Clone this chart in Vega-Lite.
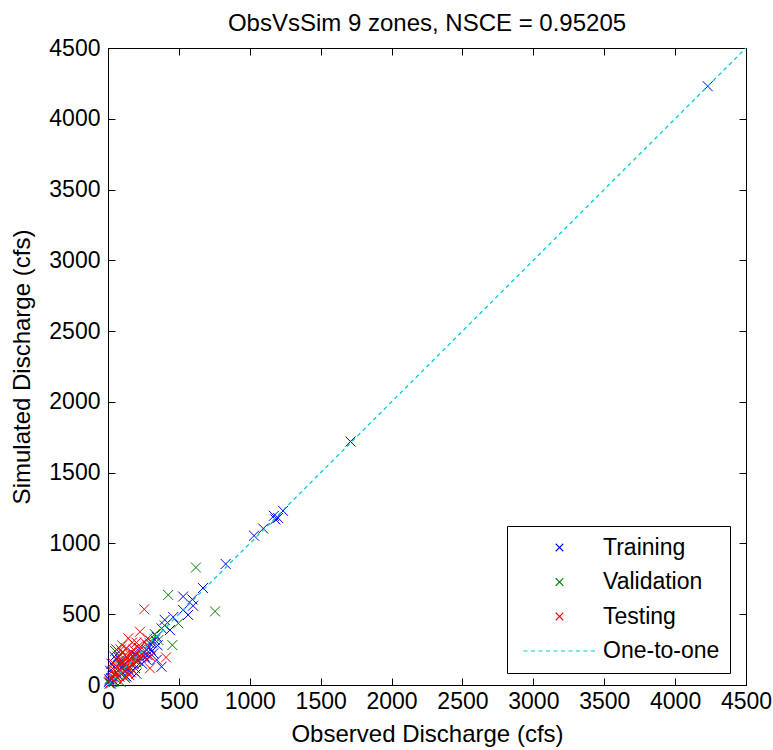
{
  "$schema": "https://vega.github.io/schema/vega-lite/v6.json",
  "width": 638,
  "height": 637,
  "autosize": {"type": "none"},
  "padding": {"left": 108, "top": 48, "right": 27, "bottom": 65},
  "background": "white",
  "title": {"text": "ObsVsSim 9 zones, NSCE = 0.95205", "font": "Liberation Sans", "fontSize": 24, "fontWeight": "normal", "color": "black", "offset": 6, "dy": 24, "baseline": "alphabetic", "anchor": "middle"},
  "config": {
    "view": {"stroke": "black", "strokeWidth": 1},
    "title": {"font": "Liberation Sans", "fontSize": 24, "fontWeight": "normal", "color": "black"},
    "axis": {
      "grid": false, "domain": true, "domainColor": "black", "tickColor": "black", "tickSize": -7,
      "labelFont": "Liberation Sans", "labelFontSize": 23, "labelColor": "black", "labelFlush": false,
      "titleFont": "Liberation Sans", "titleFontSize": 24, "titleFontWeight": "normal", "titleColor": "black"
    }
  },
  "datasets": {
    "points": [
      {"obs": 4230, "sim": 4230, "series": "Training"},
      {"obs": 1710, "sim": 1720, "series": "Training"},
      {"obs": 1030, "sim": 1055, "series": "Training"},
      {"obs": 1095, "sim": 1105, "series": "Training"},
      {"obs": 1170, "sim": 1195, "series": "Training"},
      {"obs": 1200, "sim": 1180, "series": "Training"},
      {"obs": 1235, "sim": 1230, "series": "Training"},
      {"obs": 1180, "sim": 1170, "series": "Training"},
      {"obs": 830, "sim": 855, "series": "Training"},
      {"obs": 670, "sim": 685, "series": "Training"},
      {"obs": 530, "sim": 625, "series": "Training"},
      {"obs": 595, "sim": 605, "series": "Training"},
      {"obs": 600, "sim": 560, "series": "Training"},
      {"obs": 565, "sim": 495, "series": "Training"},
      {"obs": 530, "sim": 530, "series": "Training"},
      {"obs": 460, "sim": 480, "series": "Training"},
      {"obs": 400, "sim": 460, "series": "Training"},
      {"obs": 378, "sim": 400, "series": "Training"},
      {"obs": 437, "sim": 388, "series": "Training"},
      {"obs": 343, "sim": 341, "series": "Training"},
      {"obs": 296, "sim": 294, "series": "Training"},
      {"obs": 320, "sim": 224, "series": "Training"},
      {"obs": 378, "sim": 129, "series": "Training"},
      {"obs": 343, "sim": 177, "series": "Training"},
      {"obs": 273, "sim": 247, "series": "Training"},
      {"obs": 250, "sim": 230, "series": "Training"},
      {"obs": 290, "sim": 270, "series": "Training"},
      {"obs": 310, "sim": 300, "series": "Training"},
      {"obs": 260, "sim": 200, "series": "Training"},
      {"obs": 230, "sim": 190, "series": "Training"},
      {"obs": 200, "sim": 210, "series": "Training"},
      {"obs": 220, "sim": 260, "series": "Training"},
      {"obs": 180, "sim": 150, "series": "Training"},
      {"obs": 150, "sim": 180, "series": "Training"},
      {"obs": 120, "sim": 100, "series": "Training"},
      {"obs": 100, "sim": 130, "series": "Training"},
      {"obs": 80, "sim": 60, "series": "Training"},
      {"obs": 60, "sim": 90, "series": "Training"},
      {"obs": 40, "sim": 30, "series": "Training"},
      {"obs": 30, "sim": 60, "series": "Training"},
      {"obs": 20, "sim": 10, "series": "Training"},
      {"obs": 10, "sim": 40, "series": "Training"},
      {"obs": 50, "sim": 120, "series": "Training"},
      {"obs": 70, "sim": 200, "series": "Training"},
      {"obs": 90, "sim": 170, "series": "Training"},
      {"obs": 110, "sim": 140, "series": "Training"},
      {"obs": 140, "sim": 110, "series": "Training"},
      {"obs": 160, "sim": 90, "series": "Training"},
      {"obs": 190, "sim": 120, "series": "Training"},
      {"obs": 210, "sim": 170, "series": "Training"},
      {"obs": 240, "sim": 150, "series": "Training"},
      {"obs": 270, "sim": 180, "series": "Training"},
      {"obs": 300, "sim": 250, "series": "Training"},
      {"obs": 330, "sim": 320, "series": "Training"},
      {"obs": 350, "sim": 280, "series": "Training"},
      {"obs": 280, "sim": 210, "series": "Training"},
      {"obs": 25, "sim": 150, "series": "Training"},
      {"obs": 15, "sim": 100, "series": "Training"},
      {"obs": 5, "sim": 20, "series": "Training"},
      {"obs": 45, "sim": 200, "series": "Training"},
      {"obs": 60, "sim": 250, "series": "Training"},
      {"obs": 130, "sim": 60, "series": "Training"},
      {"obs": 170, "sim": 230, "series": "Training"},
      {"obs": 200, "sim": 80, "series": "Training"},
      {"obs": 620, "sim": 830, "series": "Validation"},
      {"obs": 425, "sim": 636, "series": "Validation"},
      {"obs": 755, "sim": 520, "series": "Validation"},
      {"obs": 496, "sim": 436, "series": "Validation"},
      {"obs": 454, "sim": 282, "series": "Validation"},
      {"obs": 355, "sim": 318, "series": "Validation"},
      {"obs": 400, "sim": 420, "series": "Validation"},
      {"obs": 300, "sim": 310, "series": "Validation"},
      {"obs": 250, "sim": 230, "series": "Validation"},
      {"obs": 180, "sim": 200, "series": "Validation"},
      {"obs": 150, "sim": 130, "series": "Validation"},
      {"obs": 100, "sim": 80, "series": "Validation"},
      {"obs": 80, "sim": 150, "series": "Validation"},
      {"obs": 60, "sim": 40, "series": "Validation"},
      {"obs": 40, "sim": 20, "series": "Validation"},
      {"obs": 20, "sim": 50, "series": "Validation"},
      {"obs": 10, "sim": 10, "series": "Validation"},
      {"obs": 30, "sim": 100, "series": "Validation"},
      {"obs": 120, "sim": 60, "series": "Validation"},
      {"obs": 200, "sim": 160, "series": "Validation"},
      {"obs": 270, "sim": 250, "series": "Validation"},
      {"obs": 330, "sim": 360, "series": "Validation"},
      {"obs": 50, "sim": 240, "series": "Validation"},
      {"obs": 90, "sim": 20, "series": "Validation"},
      {"obs": 256, "sim": 535, "series": "Testing"},
      {"obs": 409, "sim": 195, "series": "Testing"},
      {"obs": 296, "sim": 118, "series": "Testing"},
      {"obs": 226, "sim": 376, "series": "Testing"},
      {"obs": 143, "sim": 330, "series": "Testing"},
      {"obs": 100, "sim": 280, "series": "Testing"},
      {"obs": 60, "sim": 250, "series": "Testing"},
      {"obs": 40, "sim": 150, "series": "Testing"},
      {"obs": 80, "sim": 200, "series": "Testing"},
      {"obs": 120, "sim": 180, "series": "Testing"},
      {"obs": 150, "sim": 220, "series": "Testing"},
      {"obs": 180, "sim": 250, "series": "Testing"},
      {"obs": 200, "sim": 300, "series": "Testing"},
      {"obs": 210, "sim": 170, "series": "Testing"},
      {"obs": 170, "sim": 140, "series": "Testing"},
      {"obs": 140, "sim": 120, "series": "Testing"},
      {"obs": 110, "sim": 100, "series": "Testing"},
      {"obs": 90, "sim": 150, "series": "Testing"},
      {"obs": 70, "sim": 120, "series": "Testing"},
      {"obs": 50, "sim": 80, "series": "Testing"},
      {"obs": 30, "sim": 50, "series": "Testing"},
      {"obs": 20, "sim": 20, "series": "Testing"},
      {"obs": 60, "sim": 180, "series": "Testing"},
      {"obs": 100, "sim": 230, "series": "Testing"},
      {"obs": 130, "sim": 260, "series": "Testing"},
      {"obs": 160, "sim": 190, "series": "Testing"},
      {"obs": 190, "sim": 210, "series": "Testing"},
      {"obs": 230, "sim": 250, "series": "Testing"},
      {"obs": 250, "sim": 200, "series": "Testing"},
      {"obs": 180, "sim": 100, "series": "Testing"},
      {"obs": 150, "sim": 70, "series": "Testing"},
      {"obs": 120, "sim": 50, "series": "Testing"},
      {"obs": 80, "sim": 90, "series": "Testing"},
      {"obs": 40, "sim": 110, "series": "Testing"},
      {"obs": 100, "sim": 160, "series": "Testing"},
      {"obs": 130, "sim": 140, "series": "Testing"},
      {"obs": 160, "sim": 160, "series": "Testing"},
      {"obs": 200, "sim": 230, "series": "Testing"},
      {"obs": 220, "sim": 280, "series": "Testing"},
      {"obs": 170, "sim": 300, "series": "Testing"},
      {"obs": 120, "sim": 210, "series": "Testing"},
      {"obs": 90, "sim": 250, "series": "Testing"},
      {"obs": 60, "sim": 60, "series": "Testing"},
      {"obs": 140, "sim": 190, "series": "Testing"},
      {"obs": 260, "sim": 300, "series": "Testing"},
      {"obs": 280, "sim": 330, "series": "Testing"},
      {"obs": 300, "sim": 200, "series": "Testing"},
      {"obs": 110, "sim": 130, "series": "Testing"},
      {"obs": 75, "sim": 170, "series": "Testing"},
      {"obs": 190, "sim": 180, "series": "Testing"},
      {"obs": 240, "sim": 220, "series": "Testing"},
      {"obs": 10, "sim": 30, "series": "Testing"},
      {"obs": 140, "sim": 90, "series": "Testing"}
    ],
    "oneToOne": [
      {"obs": 0, "sim": 0, "series": "One-to-one"},
      {"obs": 4500, "sim": 4500, "series": "One-to-one"}
    ]
  },
  "layer": [
    {
      "data": {"name": "points"},
      "mark": {"type": "point", "shape": "M-1,-1L1,1M-1,1L1,-1", "filled": false, "size": 100, "strokeWidth": 1, "opacity": 1},
      "encoding": {
        "x": {"field": "obs", "type": "quantitative", "scale": {"domain": [0, 4500], "nice": false, "zero": false},
              "axis": {"orient": "bottom", "values": [0, 500, 1000, 1500, 2000, 2500, 3000, 3500, 4000, 4500], "format": "d", "title": "Observed Discharge (cfs)", "labelPadding": 12, "titlePadding": 9}},
        "y": {"field": "sim", "type": "quantitative", "scale": {"domain": [0, 4500], "nice": false, "zero": false},
              "axis": {"orient": "left", "values": [0, 500, 1000, 1500, 2000, 2500, 3000, 3500, 4000, 4500], "format": "d", "title": "Simulated Discharge (cfs)", "labelPadding": 15, "titlePadding": 14}},
        "color": {"field": "series", "type": "nominal",
                  "scale": {"domain": ["Training", "Validation", "Testing", "One-to-one"], "range": ["#0000FF", "#008000", "#FF0000", "#00CCCC"]},
                  "legend": {
                    "orient": "none", "legendX": 399, "legendY": 478, "title": null,
                    "strokeColor": "black", "fillColor": "white", "padding": 10, "rowPadding": 10.5,
                    "symbolSize": 100, "symbolOffset": 31, "labelOffset": 32,
                    "labelFont": "Liberation Sans", "labelFontSize": 23, "labelColor": "black",
                    "labelExpr": "datum.label + ' '",
                    "symbolStrokeWidth": 1.2, "cornerRadius": 0,
                    "encoding": {"symbols": {
                      "shape": {"value": {"signal": "datum.value === 'One-to-one' ? 'M-7.2,0L7.2,0' : 'M-0.75,-0.75L0.75,0.75M-0.75,0.75L0.75,-0.75'"}},
                      "strokeDash": {"value": {"signal": "datum.value === 'One-to-one' ? [4,3.5] : [1,0]"}},
                      "fill": {"value": "transparent"},
                      "strokeWidth": {"value": 1.2},
                      "opacity": {"value": 1}
                    }}
                  }}
      }
    },
    {
      "data": {"name": "oneToOne"},
      "mark": {"type": "line", "strokeDash": [4, 3.5], "strokeWidth": 1.3, "color": "#00CCCC"},
      "encoding": {
        "x": {"field": "obs", "type": "quantitative", "scale": {"domain": [0, 4500], "nice": false, "zero": false},
              "axis": {"orient": "top", "values": [0, 500, 1000, 1500, 2000, 2500, 3000, 3500, 4000, 4500], "labels": false, "title": null}},
        "y": {"field": "sim", "type": "quantitative", "scale": {"domain": [0, 4500], "nice": false, "zero": false},
              "axis": {"orient": "right", "values": [0, 500, 1000, 1500, 2000, 2500, 3000, 3500, 4000, 4500], "labels": false, "title": null}}
      }
    }
  ],
  "resolve": {"axis": {"x": "independent", "y": "independent"}}
}
